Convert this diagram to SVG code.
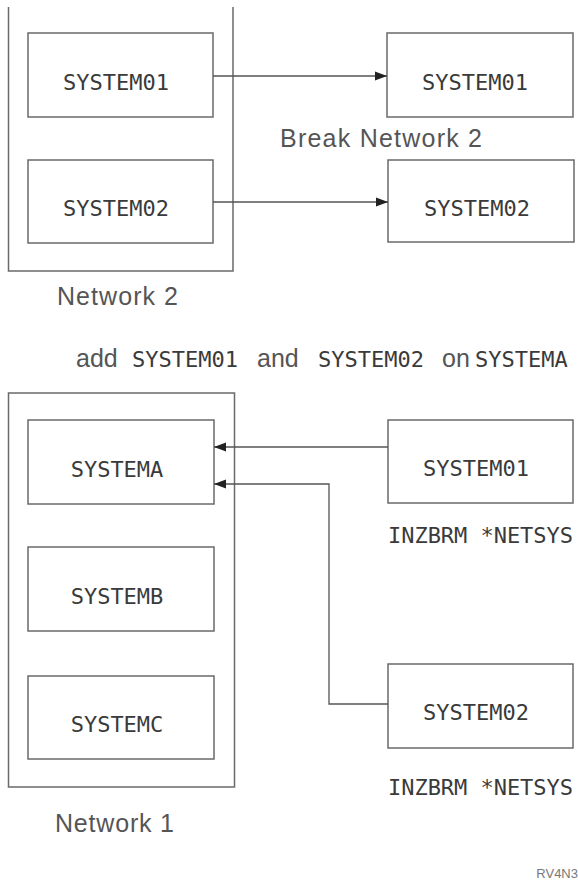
<svg xmlns="http://www.w3.org/2000/svg" width="578" height="881" viewBox="0 0 578 881">
<defs>
<style>
.box{fill:#fff;stroke:#6a6a6a;stroke-width:1.5}
.grp{fill:none;stroke:#6a6a6a;stroke-width:1.5}
.ln{fill:none;stroke:#555;stroke-width:1.3}
.mono{font-family:"DejaVu Sans Mono","Liberation Mono",monospace;font-size:22px;fill:#3a3a3a}
.sans{font-family:"Liberation Sans",Arial,sans-serif;font-size:25px;fill:#555}
.small{font-family:"Liberation Sans",Arial,sans-serif;font-size:13px;fill:#777}
</style>
<marker id="ah" viewBox="0 0 12 10" refX="12" refY="5" markerWidth="12" markerHeight="10" markerUnits="userSpaceOnUse" orient="auto">
<path d="M0,0.5 L12,5 L0,9.5 z" fill="#222"/>
</marker>
</defs>
<rect width="578" height="881" fill="#fff"/>

<g id="network2">
<path class="grp" d="M8.5,7 V271 H233 V7"/>
<text class="sans" x="57" y="305" textLength="121">Network 2</text>
</g>
<g id="n2-system01">
<rect class="box" x="28" y="33" width="185" height="84"/>
<text class="mono" x="116" y="90" text-anchor="middle">SYSTEM01</text>
</g>
<g id="n2-system02">
<rect class="box" x="28" y="160" width="185" height="83"/>
<text class="mono" x="116" y="216" text-anchor="middle">SYSTEM02</text>
</g>
<g id="r-system01">
<rect class="box" x="387" y="33" width="186" height="84"/>
<text class="mono" x="475" y="90" text-anchor="middle">SYSTEM01</text>
</g>
<g id="r-system02">
<rect class="box" x="388" y="160" width="186" height="82"/>
<text class="mono" x="477" y="216" text-anchor="middle">SYSTEM02</text>
</g>
<text id="break-label" class="sans" x="280" y="147" textLength="202">Break Network 2</text>

<text id="title" y="367"><tspan class="sans" x="76">add</tspan><tspan class="mono" x="132">SYSTEM01</tspan><tspan class="sans" x="257">and</tspan><tspan class="mono" x="318">SYSTEM02</tspan><tspan class="sans" x="442">on</tspan><tspan class="mono" x="475">SYSTEMA</tspan></text>

<g id="network1">
<rect class="grp" x="8.5" y="393" width="226" height="394"/>
<text class="sans" x="55" y="832" textLength="119">Network 1</text>
</g>
<g id="systema">
<rect class="box" x="28" y="420" width="186" height="84"/>
<text class="mono" x="117" y="477" text-anchor="middle">SYSTEMA</text>
</g>
<g id="systemb">
<rect class="box" x="28" y="547" width="186" height="84"/>
<text class="mono" x="117" y="604" text-anchor="middle">SYSTEMB</text>
</g>
<g id="systemc">
<rect class="box" x="28" y="676" width="186" height="83"/>
<text class="mono" x="117" y="732" text-anchor="middle">SYSTEMC</text>
</g>
<g id="b-system01">
<rect class="box" x="388" y="420" width="185" height="83"/>
<text class="mono" x="476" y="476" text-anchor="middle">SYSTEM01</text>
<text class="mono" x="388" y="543" textLength="185">INZBRM *NETSYS</text>
</g>
<g id="b-system02">
<rect class="box" x="388" y="664" width="185" height="84"/>
<text class="mono" x="476" y="720" text-anchor="middle">SYSTEM02</text>
<text class="mono" x="388" y="795" textLength="185">INZBRM *NETSYS</text>
</g>
<text id="ref" class="small" x="578" y="878" text-anchor="end">RV4N3</text>

<g id="connectors">
<path class="ln" d="M213,76 H387" marker-end="url(#ah)"/>
<path class="ln" d="M213,202 H388" marker-end="url(#ah)"/>
<path class="ln" d="M388,447 H214" marker-end="url(#ah)"/>
<path class="ln" d="M388,704 H329 V484 H214" marker-end="url(#ah)"/>
</g>
</svg>
